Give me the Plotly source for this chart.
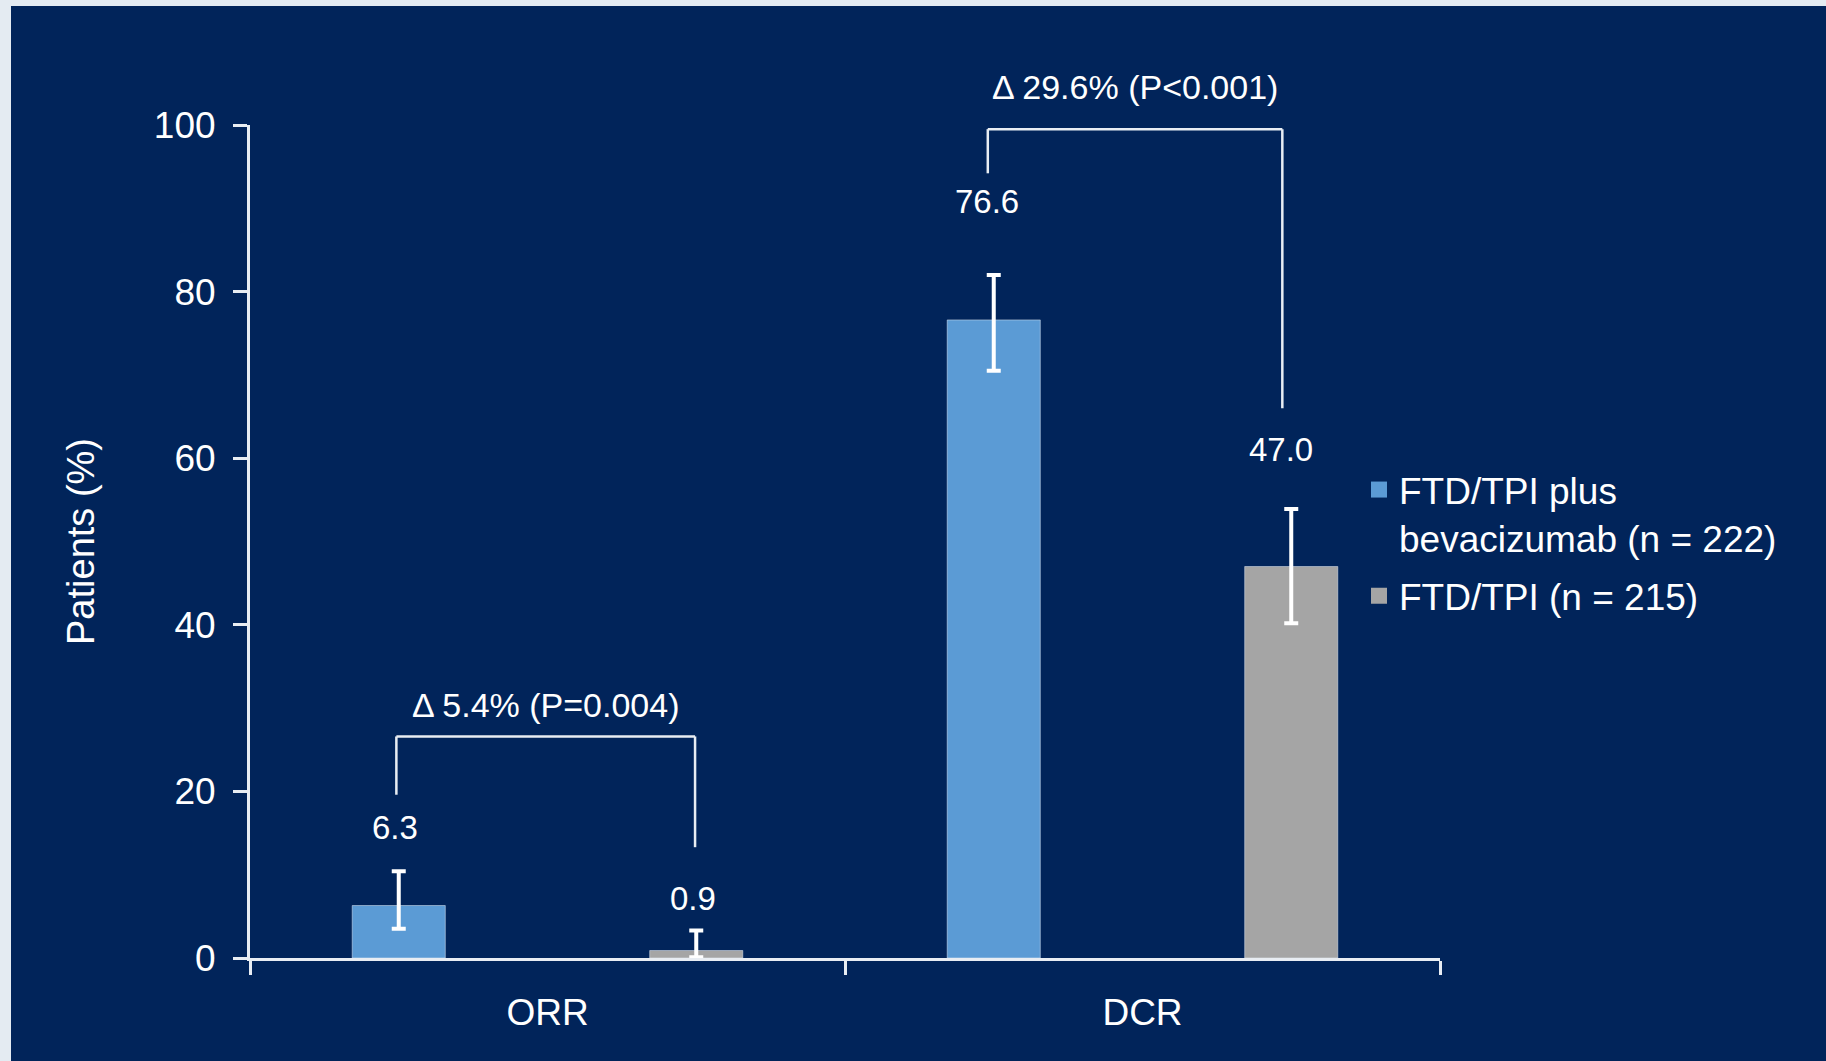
import plotly.graph_objects as go

# ---- data -------------------------------------------------------------
categories = ["ORR", "DCR"]

combo_name = "FTD/TPI plus<br>bevacizumab (n = 222)"
mono_name = "FTD/TPI (n = 215)"

combo_rate = [6.3, 76.6]
combo_ci_low = [3.5, 70.5]
combo_ci_high = [10.4, 82.0]

mono_rate = [0.9, 47.0]
mono_ci_low = [0.1, 40.2]
mono_ci_high = [3.3, 53.9]

delta_text = ["Δ 5.4% (P=0.004)", "Δ 29.6% (P<0.001)"]

y_ticks = [0, 20, 40, 60, 80, 100]

# ---- styling ----------------------------------------------------------
NAVY = "#01245a"
FRAME = "#e4ebf2"
BLUE = "#5b9bd5"
GREY = "#a5a5a5"
WHITE = "#ffffff"
LINE = "#e8edf3"
FONT = "Liberation Sans, Arial, sans-serif"

# label / bracket placement (y in axis units, shifts in px)
combo_label_y = [15.7, 90.8]
mono_label_y = [7.1, 61.0]
combo_label_dx = [-4, -7]
mono_label_dx = [-3, -10]
bracket_left_y = [19.6, 94.2]
bracket_top_y = [26.6, 99.5]
bracket_right_y = [13.3, 66.0]
bracket_dx = [(-0.004, -0.002), (-0.010, -0.015)]
delta_text_dy = [31, 42]

fig = go.Figure()

fig.add_trace(go.Bar(
    x=categories, y=combo_rate, name=combo_name, marker_color=BLUE,
    showlegend=False,
    error_y=dict(type="data",
                 array=[h - v for h, v in zip(combo_ci_high, combo_rate)],
                 arrayminus=[v - l for v, l in zip(combo_rate, combo_ci_low)],
                 color=WHITE, thickness=4, width=7),
))
fig.add_trace(go.Bar(
    x=categories, y=mono_rate, name=mono_name, marker_color=GREY,
    showlegend=False,
    error_y=dict(type="data",
                 array=[h - v for h, v in zip(mono_ci_high, mono_rate)],
                 arrayminus=[v - l for v, l in zip(mono_rate, mono_ci_low)],
                 color=WHITE, thickness=4, width=7),
))

# legend entries with larger square swatches
for name, color in [(combo_name, BLUE), (mono_name, GREY)]:
    fig.add_trace(go.Scatter(
        x=[None], y=[None], mode="markers", name=name, legendgroup=name,
        marker=dict(symbol="square", size=16, color=color),
    ))

shapes = []
annotations = []

# backdrop panel
shapes.append(dict(type="rect", xref="paper", yref="paper",
                   x0=(11 - 250) / 1190, x1=(1826 - 250) / 1190,
                   y0=(958 - 1061) / 833, y1=(958 - 6) / 833,
                   fillcolor=NAVY, line_width=0, layer="below"))

for i in range(len(categories)):
    xl = i - 0.25 + bracket_dx[i][0]
    xr = i + 0.25 + bracket_dx[i][1]
    # comparison bracket
    for x0, y0, x1, y1 in [
        (xl, bracket_left_y[i], xl, bracket_top_y[i]),
        (xl, bracket_top_y[i], xr, bracket_top_y[i]),
        (xr, bracket_top_y[i], xr, bracket_right_y[i]),
    ]:
        shapes.append(dict(type="line", xref="x", yref="y",
                           x0=x0, y0=y0, x1=x1, y1=y1,
                           line=dict(color=LINE, width=2.5)))
    annotations.append(dict(x=(xl + xr) / 2, y=bracket_top_y[i],
                            xref="x", yref="y", yshift=delta_text_dy[i],
                            text=delta_text[i], showarrow=False,
                            font=dict(size=34, color=WHITE, family=FONT)))
    # value labels
    annotations.append(dict(x=i - 0.25, y=combo_label_y[i], xref="x", yref="y",
                            text=f"{combo_rate[i]:.1f}", showarrow=False,
                            xshift=combo_label_dx[i],
                            font=dict(size=33, color=WHITE, family=FONT)))
    annotations.append(dict(x=i + 0.25, y=mono_label_y[i], xref="x", yref="y",
                            text=f"{mono_rate[i]:.1f}", showarrow=False,
                            xshift=mono_label_dx[i],
                            font=dict(size=33, color=WHITE, family=FONT)))

fig.update_layout(
    width=1826, height=1061,
    margin=dict(l=250, r=386, t=125, b=103, autoexpand=False),
    paper_bgcolor=FRAME, plot_bgcolor=NAVY,
    barmode="group", bargap=0, bargroupgap=0.687,
    font=dict(family=FONT, color=WHITE),
    shapes=shapes, annotations=annotations,
    legend=dict(x=(1359 - 250) / 1190, y=(958 - 459) / 833,
                xanchor="left", yanchor="top", valign="top",
                bgcolor="rgba(0,0,0,0)", itemsizing="trace",
                font=dict(size=37, color=WHITE, family=FONT),
                tracegroupgap=7),
)

fig.update_xaxes(
    type="category", range=[-0.5, 1.5], showgrid=False, zeroline=False,
    showline=True, linecolor=LINE, linewidth=3,
    ticks="outside", tickson="boundaries", ticklen=14, tickwidth=3,
    tickcolor=LINE, ticklabelstandoff=20,
    tickfont=dict(size=37, color=WHITE, family=FONT),
)
fig.update_yaxes(
    range=[0, 100], tickvals=y_ticks, showgrid=False, zeroline=False,
    showline=True, linecolor=LINE, linewidth=3,
    ticks="outside", ticklen=14, tickwidth=3, tickcolor=LINE,
    ticklabelstandoff=10,
    tickfont=dict(size=37, color=WHITE, family=FONT),
    title=dict(text="Patients (%)", font=dict(size=38, color=WHITE, family=FONT),
               standoff=48),
)

fig.write_html("out.html")
